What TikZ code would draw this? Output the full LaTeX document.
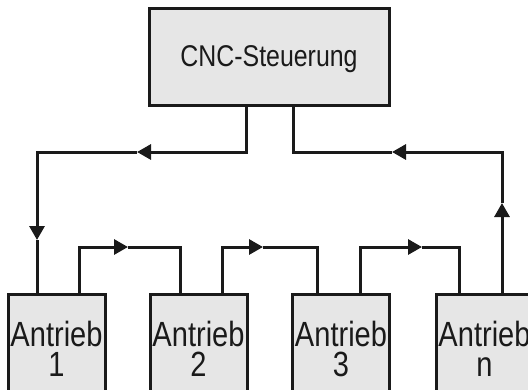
\documentclass[tikz,border=0pt]{standalone}
\usepackage{fontspec}
\setmainfont{Liberation Sans}[FakeStretch=0.83]
\usepackage{tikz}
\usetikzlibrary{arrows.meta,positioning,calc}
\definecolor{boxgray}{HTML}{E6E6E6}
\definecolor{linegray}{HTML}{1A1A1A}

\begin{document}
\begin{tikzpicture}[x=1pt, y=-1pt,
    box/.style={draw=linegray, line width=3pt, fill=boxgray, inner sep=0pt, text=linegray},
    drive/.style={box, minimum width=97pt, minimum height=108pt, anchor=north, align=center,
        font=\fontsize{35}{30}\selectfont},
    flow/.style={draw=linegray, line width=3pt},
    tip/.style={flow, -{Triangle[length=14pt, width=15pt]}}]
    \useasboundingbox (0,0) rectangle (528,389);
    \clip (0,0) rectangle (528,389);

    % Steuerung
    \node[box, minimum width=240pt, minimum height=97pt, text depth=0pt,
        font=\fontsize{30}{30}\selectfont] (cnc) at (269,56.5) {CNC-Steuerung};

    % Antriebe
    \node[drive] (a1) at (56.5,293) {Antrieb\\1};
    \node[drive] (a2) at (198.5,293) {Antrieb\\2};
    \node[drive] (a3) at (341,293) {Antrieb\\3};
    \node[drive] (an) at (484.5,293) {Antrieb\\n};

    % Knickpunkte und Pfeilspitzen
    \coordinate (l1) at (246,152);
    \coordinate (l2) at (37,152);
    \coordinate (r1) at (293,152);
    \coordinate (r2) at (502,152);
    \coordinate (tl) at (137,152);
    \coordinate (td) at (37,240);
    \coordinate (tu) at (502,203);
    \coordinate (tr) at (392,152);

    % Ausgang der Steuerung zu Antrieb 1
    \draw[tip] (cnc.south -| l1) -- (l1) -- (tl);
    \draw[tip] (tl) -- (l2) -- (td);
    \draw[flow] (td) -- (a1.north -| td);

    % Rueckfuehrung von Antrieb n
    \draw[tip] (an.north -| tu) -- (tu);
    \draw[tip] (tu) -- (r2) -- (tr);
    \draw[flow] (tr) -- (r1) -- (cnc.south -| r1);

    % Kette der Antriebe
    \draw[tip] (a1.north -| 79,0) |- (128,247);
    \draw[flow] (128,247) -| (a2.north -| 180,0);
    \draw[tip] (a2.north -| 222,0) |- (263,247);
    \draw[flow] (263,247) -| (a3.north -| 317,0);
    \draw[tip] (a3.north -| 360,0) |- (422,247);
    \draw[flow] (422,247) -| (an.north -| 459,0);
\end{tikzpicture}
\end{document}
